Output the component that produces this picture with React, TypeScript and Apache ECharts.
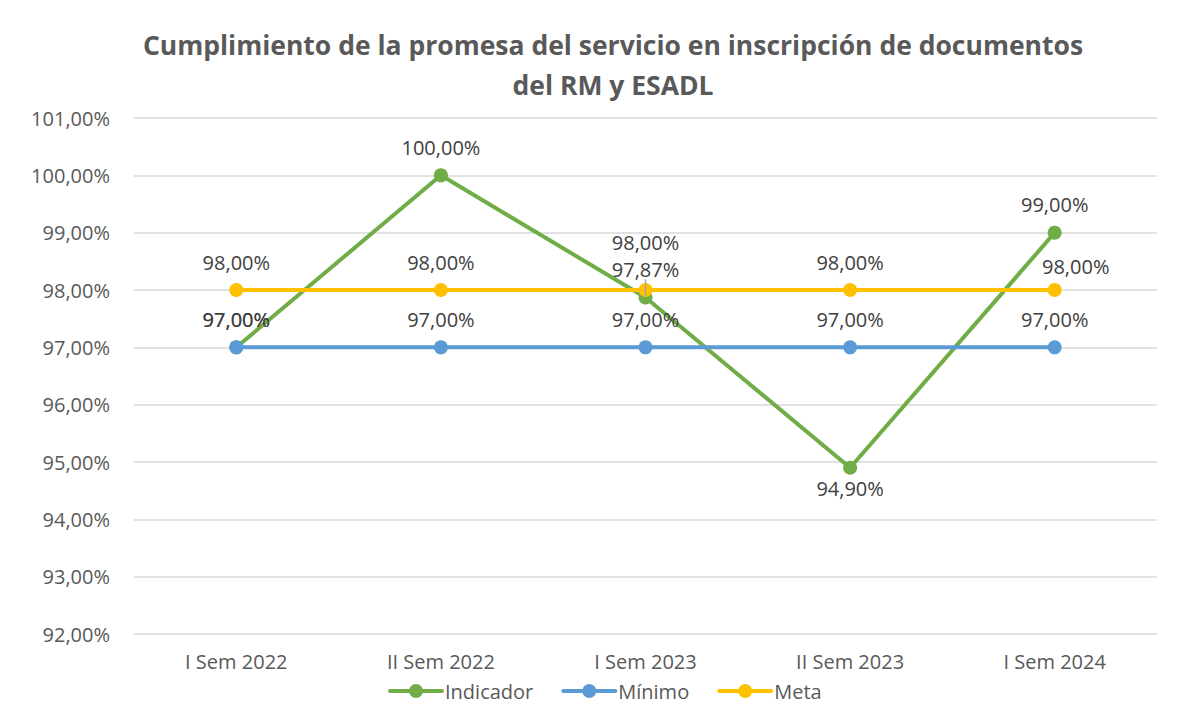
import React, { useEffect, useRef } from "react";
import * as echarts from "echarts";

const categories = ["I Sem 2022", "II Sem 2022", "I Sem 2023", "II Sem 2023", "I Sem 2024"];
const indicador = [97.0, 100.0, 97.87, 94.9, 99.0];
const minimo = [97.0, 97.0, 97.0, 97.0, 97.0];
const meta = [98.0, 98.0, 98.0, 98.0, 98.0];
const yMin = 92;
const yMax = 101;
const yStep = 1;
const leaderIndex = 2;

const fmt = (v: number) => v.toFixed(2).replace(".", ",") + "%";
const FONT = "Open Sans";
const legendIcon =
  "path://M2,5 L54,5 A2,2 0 0,1 54,9 L2,9 A2,2 0 0,1 2,5 Z M21,7 A7,7 0 1,1 35,7 A7,7 0 1,1 21,7 Z";

export default function App() {
  const ref = useRef<HTMLDivElement>(null);
  useEffect(() => {
    if (!ref.current) return;
    const chart = echarts.init(ref.current, undefined, { renderer: "svg" });
    const labelBase = {
      show: true,
      position: "top" as const,
      distance: 11,
      fontFamily: FONT,
      fontSize: 20,
      color: "#404040",
      formatter: (p: any) => fmt(p.value),
    };
    const lineCommon = {
      type: "line",
      lineStyle: { width: 4 },
      symbol: "circle",
      symbolSize: 14,
    };
    chart.setOption({
      animation: false,
      backgroundColor: "transparent",
      title: {
        text: "Cumplimiento de la promesa del servicio en inscripción de documentos\ndel RM y ESADL",
        left: 608,
        textAlign: "center",
        top: 20,
        textStyle: {
          fontFamily: FONT,
          fontWeight: "bold",
          fontSize: 26.5,
          color: "#595959",
          lineHeight: 40,
        },
      },
      legend: {
        top: 676,
        left: 383,
        itemWidth: 56,
        itemHeight: 14,
        itemGap: 28,
        textStyle: { fontFamily: FONT, fontSize: 20, color: "#595959", padding: [0, 0, 0, -4] },
        data: [
          { name: "Indicador", icon: legendIcon },
          { name: "Mínimo", icon: legendIcon },
          { name: "Meta", icon: legendIcon },
        ],
      },
      grid: { left: 134, right: 44, top: 118, bottom: 87 },
      xAxis: {
        type: "category",
        data: categories,
        axisLine: { show: false },
        axisTick: { show: false },
        axisLabel: { fontFamily: FONT, fontSize: 20, color: "#595959", margin: 17 },
      },
      yAxis: {
        type: "value",
        min: yMin,
        max: yMax,
        interval: yStep,
        axisLine: { show: false },
        axisTick: { show: false },
        splitLine: { lineStyle: { color: "#d9d9d9", width: 1.5 } },
        axisLabel: {
          fontFamily: FONT,
          fontSize: 20,
          color: "#595959",
          margin: 24,
          formatter: (v: number) => fmt(v),
        },
      },
      series: [
        {
          ...lineCommon,
          name: "Indicador",
          data: indicador.map((v, i) =>
            i === 3
              ? { value: v, label: { position: "bottom", distance: 4 } }
              : i === leaderIndex
              ? { value: v, label: { show: false } }
              : { value: v }
          ),
          color: "#70AD47",
          z: 2,
          label: labelBase,
        },
        {
          ...lineCommon,
          name: "Mínimo",
          data: minimo,
          color: "#5B9BD5",
          z: 3,
          label: labelBase,
        },
        {
          ...lineCommon,
          name: "Meta",
          data: meta.map((v, i) =>
            i === 2
              ? { value: v, label: { offset: [0, -20] } }
              : i === 4
              ? { value: v, label: { offset: [21, 4] } }
              : { value: v }
          ),
          color: "#FFC000",
          z: 4,
          label: labelBase,
        },
        {
          ...lineCommon,
          name: "IndicadorLabel",
          data: indicador.map((v, i) => (i === leaderIndex ? v : null)),
          color: "rgba(0,0,0,0)",
          symbolSize: 2,
          itemStyle: { color: "rgba(0,0,0,0)" },
          lineStyle: { width: 0, color: "rgba(0,0,0,0)" },
          z: 6,
          label: { ...labelBase, distance: 12, color: "#404040" },
          labelLine: { show: true, minTurnAngle: 0, lineStyle: { color: "#a6a6a6", width: 1.5 } },
          labelLayout: { dy: -5 },
          tooltip: { show: false },
        },
      ],
    });
    return () => chart.dispose();
  }, []);

  return (
    <div style={{ position: "relative", width: 1201, height: 721, background: "#f5f6fa", margin: -8, overflow: "hidden" }}>
      <div
        style={{
          position: "absolute",
          left: 6,
          top: 6,
          width: 1300,
          height: 800,
          background: "#ffffff",
          borderTop: "2px solid #d9d9d9",
          borderLeft: "2px solid #d9d9d9",
        }}
      />
      <div ref={ref} style={{ position: "absolute", left: 0, top: 0, width: 1201, height: 721 }} />
    </div>
  );
}
